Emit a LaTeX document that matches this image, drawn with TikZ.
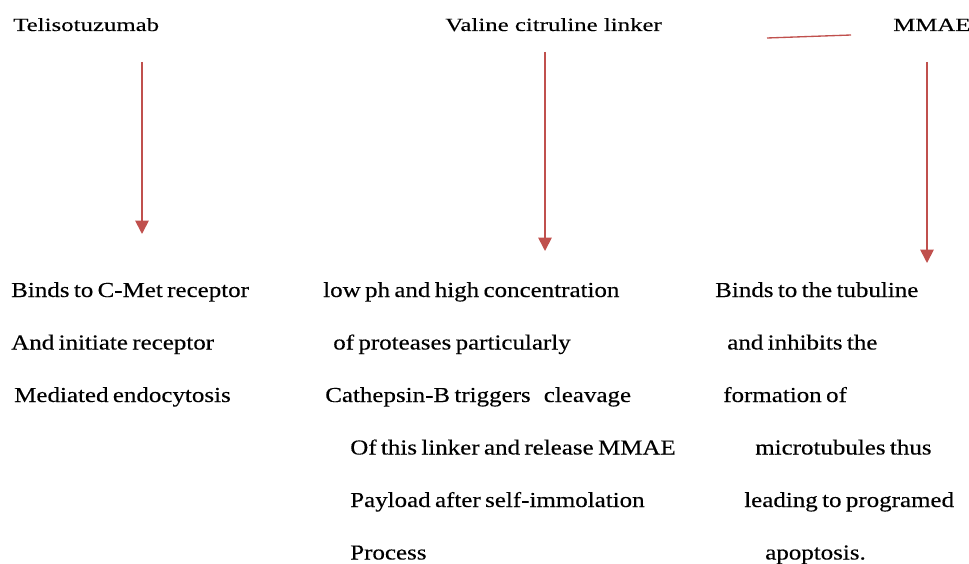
\documentclass[tikz,border=0pt]{standalone}
\usepackage{fontspec}
\setmainfont{Liberation Serif}
\newfontfamily\headfont[FakeStretch=1.33,FakeBold=0.2]{Liberation Serif}
\newfontfamily\bodyfont[FakeStretch=1.17,WordSpace=0.7,FakeBold=0.3]{Liberation Serif}
\usetikzlibrary{arrows.meta}
\definecolor{arrowred}{HTML}{C0504D}

\begin{document}
\begin{tikzpicture}[x=0.75pt,y=-0.75pt,
  head/.style={anchor=base west,inner sep=0pt,font=\headfont\fontsize{14}{16}\selectfont},
  body/.style={anchor=base west,inner sep=0pt,font=\bodyfont\fontsize{16}{19}\selectfont},
  redarrow/.style={draw=arrowred,line width=1.3pt,-{Triangle[length=10pt,width=10pt]}}]
\useasboundingbox (0,0) rectangle (969,563);
% top labels
\node (antibody) at (13,31) [head] {Telisotuzumab};
\node (linker) at (445,31) [head] {Valine citruline linker};
\node (payload) at (893,31) [head] {MMAE};
% left column
\node (ab1) at (11,297) [body] {Binds to C-Met receptor};
\node (ab2) at (11,349.5) [body] {And initiate receptor};
\node (ab3) at (14,402) [body] {Mediated endocytosis};
% middle column
\node (lk1) at (323,297) [body] {low ph and high concentration};
\node (lk2) at (333,349.5) [body] {of proteases particularly};
\node (lk3) at (325,402) [body] {Cathepsin-B triggers\ \ \ cleavage};
\node (lk4) at (350,454.5) [body] {Of this linker and release MMAE};
\node (lk5) at (350,507) [body] {Payload after self-immolation};
\node (lk6) at (350,559.5) [body] {Process};
% right column
\node (pl1) at (715,297) [body] {Binds to the tubuline};
\node (pl2) at (727,349.5) [body] {and inhibits the};
\node (pl3) at (723,402) [body] {formation of};
\node (pl4) at (755,454.5) [body] {microtubules thus};
\node (pl5) at (744,507) [body] {leading to programed};
\node (pl6) at (765,559.5) [body] {apoptosis.};
% arrows
\coordinate (abtop) at (142,62);
\coordinate (abtip) at (142,234);
\coordinate (lktop) at (545,52);
\coordinate (lktip) at (545,251);
\coordinate (pltop) at (927,62);
\coordinate (pltip) at (927,263);
\draw[redarrow] (abtop)--(abtip);
\draw[redarrow] (lktop)--(lktip);
\draw[redarrow] (pltop)--(pltip);
\coordinate (barl) at (767,38);
\coordinate (barr) at (851,35);
\draw[arrowred,line width=1pt] (barl)--(barr);
\end{tikzpicture}
\end{document}
